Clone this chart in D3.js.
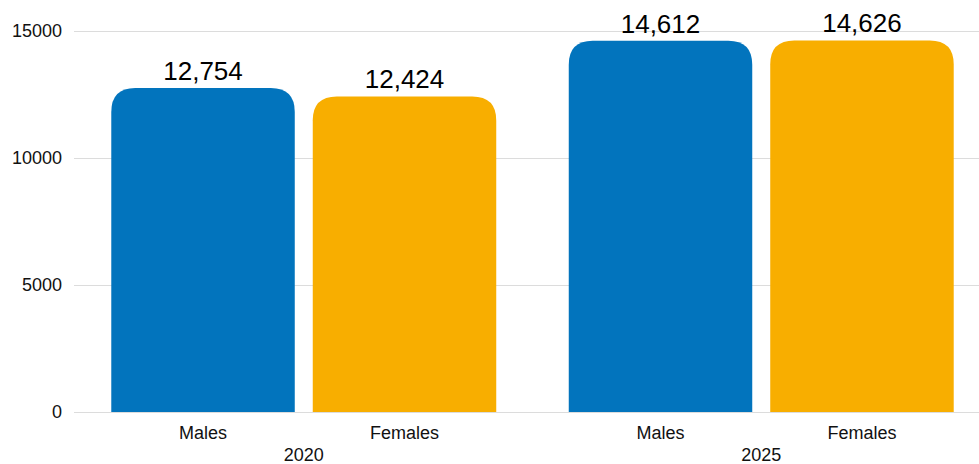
<!DOCTYPE html>
<html><head><meta charset="utf-8">
<script src="https://cdn.jsdelivr.net/npm/d3@7"></script>
<style>body{margin:0;background:#fff}svg{display:block;font-family:"Liberation Sans",Arial,Helvetica,sans-serif}</style>
</head><body><svg id="c" width="979" height="464"></svg>
<script>
const years = ["2020", "2025"];
const sexes = ["Males", "Females"];
const males = [12754, 14612];
const females = [12424, 14626];
const yTicks = [0, 5000, 10000, 15000];
const colors = ["#0274BD", "#F8AE00"];

const svg = d3.select("#c");
const y = d3.scaleLinear().domain([0, 15000]).range([412, 31]);
const x0 = d3.scaleBand().domain(years).range([75, 990]).paddingInner(0.1585).paddingOuter(0.0793);
const x1 = d3.scaleBand().domain(sexes).range([0, x0.bandwidth()]).paddingInner(0.0893).paddingOuter(0);
const color = d3.scaleOrdinal().domain(sexes).range(colors);

// grid
const yAxis = d3.axisLeft(y).tickValues(yTicks).tickSize(-(979 - 74)).tickFormat(d3.format("d")).tickPadding(12);
const ga = svg.append("g").attr("transform", "translate(74,0)").call(yAxis);
ga.select(".domain").remove();
ga.selectAll(".tick line").attr("stroke", "#dcdcdc").attr("stroke-width", 1);
ga.selectAll(".tick text").attr("fill", "#111").style("font-size", "18px").attr("x", -12);

const data = [];
years.forEach((yr, i) => {
  data.push({year: yr, sex: "Males", v: males[i]});
  data.push({year: yr, sex: "Females", v: females[i]});
});

const r = 24;
function barPath(x, w, top, bottom) {
  const rr = Math.min(r, w / 2, bottom - top);
  return `M${x},${bottom}V${top + rr}Q${x},${top} ${x + rr},${top}H${x + w - rr}Q${x + w},${top} ${x + w},${top + rr}V${bottom}Z`;
}

const bars = svg.append("g");
bars.selectAll("path").data(data).join("path")
  .attr("d", d => barPath(x0(d.year) + x1(d.sex), x1.bandwidth(), y(d.v), y(0)))
  .attr("fill", d => color(d.sex));

svg.append("g").selectAll("text").data(data).join("text")
  .attr("x", d => x0(d.year) + x1(d.sex) + x1.bandwidth() / 2)
  .attr("y", d => y(d.v) - 8)
  .attr("text-anchor", "middle")
  .style("font-size", "26px")
  .attr("fill", "#000")
  .text(d => d3.format(",")(d.v));

// category labels
svg.append("g").selectAll("text").data(data).join("text")
  .attr("x", d => x0(d.year) + x1(d.sex) + x1.bandwidth() / 2)
  .attr("y", 439)
  .attr("text-anchor", "middle")
  .style("font-size", "18px")
  .attr("fill", "#111")
  .text(d => d.sex);

svg.append("g").selectAll("text").data(years).join("text")
  .attr("x", d => x0(d) + x0.bandwidth() / 2)
  .attr("y", 461)
  .attr("text-anchor", "middle")
  .style("font-size", "18px")
  .attr("fill", "#111")
  .text(d => d);
</script></body></html>
